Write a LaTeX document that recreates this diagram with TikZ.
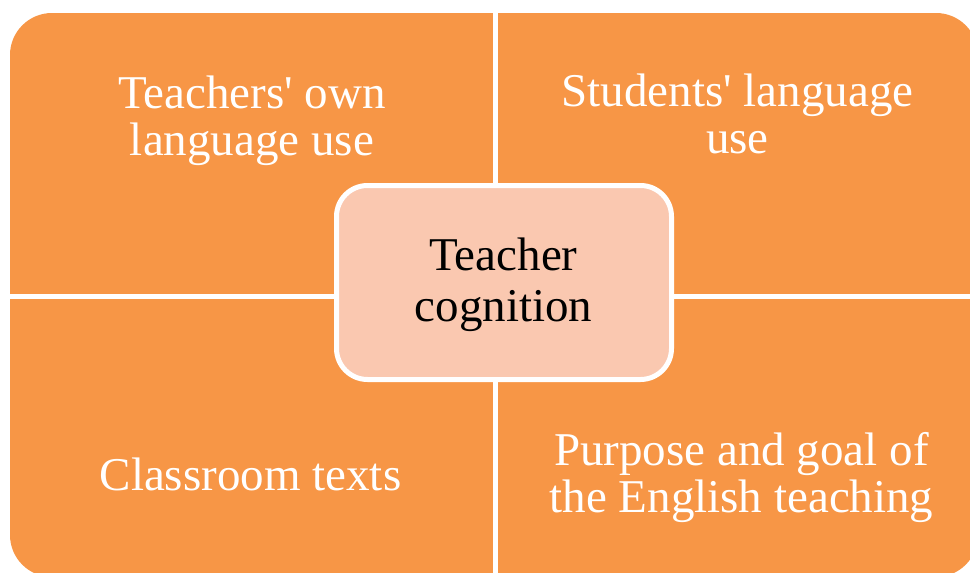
\documentclass[tikz,border=0pt]{standalone}
\usepackage{fontspec}
\setmainfont{Liberation Serif}
\definecolor{quadfill}{HTML}{F79646}
\definecolor{corefill}{HTML}{FAC8B0}
\begin{document}
\begin{tikzpicture}[x=0.5pt,y=-0.5pt,
  quadrant/.style={fill=quadfill,draw=white,line width=2.5pt},
  quadtext/.style={text=white,align=center,inner sep=0pt,
    font=\fontsize{23.5}{23.5}\selectfont},
  corebox/.style={rectangle,rounded corners=15.5pt,fill=corefill,draw=white,
    line width=2.5pt,minimum width=167.5pt,minimum height=97pt,inner sep=0pt},
  coretext/.style={text=black,align=center,inner sep=0pt,
    font=\fontsize{23.5}{25.5}\selectfont}]
\useasboundingbox (0,0) rectangle (970,573);

% four quadrants inside the rounded outer frame
\begin{scope}
  \clip[rounded corners=21pt] (10,13) rectangle (978,577);
  \path[quadrant] (-20,-20) rectangle (495.8,296.7);
  \path[quadrant] (495.8,-20) rectangle (1000,296.7);
  \path[quadrant] (-20,296.7) rectangle (495.8,600);
  \path[quadrant] (495.8,296.7) rectangle (1000,600);
\end{scope}

% quadrant labels
\node[quadtext] (tl) at (252,122.4) {\strut Teachers\textquotesingle{} own\\\strut language use};
\node[quadtext] (tr) at (737.5,120.8) {\strut Students\textquotesingle{} language\\\strut use};
\node[quadtext] (bl) at (250.5,480.6) {\strut Classroom texts};
\node[quadtext] (br) at (741.5,479.1) {\strut Purpose and goal of\\\strut the English teaching};

% central concept
\node[corebox] (core) at (504,282.5) {};
\node[coretext] (corelabel) at (503.5,285.3) {\strut Teacher\\\strut cognition};
\end{tikzpicture}
\end{document}
